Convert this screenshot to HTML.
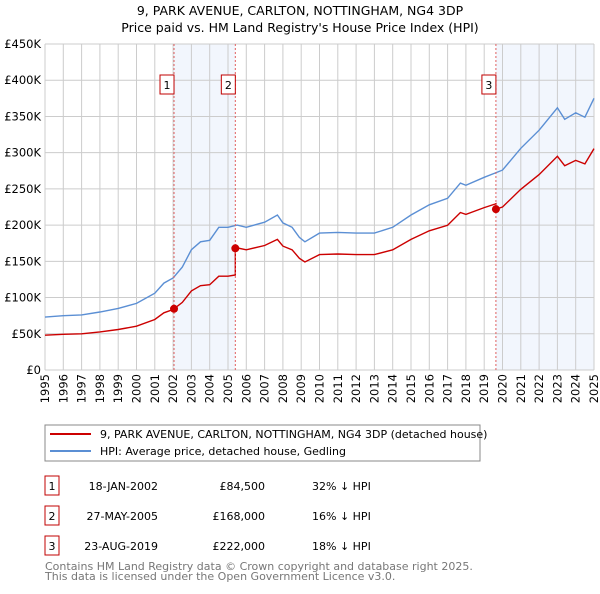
<!DOCTYPE html>
<html><head><meta charset="utf-8"><style>
body{margin:0;background:#fff;font-family:"DejaVu Sans","Liberation Sans",sans-serif;}
svg text{font-family:"DejaVu Sans","Liberation Sans",sans-serif;}
</style></head><body>
<svg id="chart" width="600" height="590" xmlns="http://www.w3.org/2000/svg">
<text x="300" y="15" font-size="12.5" text-anchor="middle" fill="#000">9, PARK AVENUE, CARLTON, NOTTINGHAM, NG4 3DP</text>
<text x="300" y="32" font-size="12.5" text-anchor="middle" fill="#000">Price paid vs. HM Land Registry's House Price Index (HPI)</text>
<g id="shade"></g><g id="grid"></g><g id="lines"></g><g id="marks"></g><g id="axes"></g>
<rect x="45" y="425" width="435" height="36" fill="#fff" stroke="#888" stroke-width="1"/>
<line x1="50" y1="434" x2="91" y2="434" stroke="#cc0000" stroke-width="2"/>
<text x="100" y="438" font-size="11">9, PARK AVENUE, CARLTON, NOTTINGHAM, NG4 3DP (detached house)</text>
<line x1="50" y1="451" x2="91" y2="451" stroke="#5b8fd4" stroke-width="2"/>
<text x="100" y="455" font-size="11">HPI: Average price, detached house, Gedling</text>
<g id="table" font-size="11"></g>
<text x="45" y="570" font-size="11" fill="#777">Contains HM Land Registry data © Crown copyright and database right 2025.</text>
<text x="45" y="580" font-size="11" fill="#777">This data is licensed under the Open Government Licence v3.0.</text>
</svg>
<script>
const hpiYears=[1995,1996,1997,1998,1999,2000,2001,2001.5,2002,2002.5,2003,2003.5,2004,2004.5,2005,2005.5,2006,2007,2007.7,2008,2008.5,2008.9,2009.2,2010,2011,2012,2013,2014,2015,2016,2017,2017.7,2018,2019,2019.6,2020,2021,2022,2023,2023.4,2024,2024.5,2025];
const hpiValues=[73,75,76,80,85,92,106,120,127,142,166,177,179,197,197,200,197,204,214,203,197,183,177,189,190,189,189,197,214,228,237,258,255,266,272,276,306,331,362,346,355,349,375];
const saleYears=[2002.05,2005.4,2019.64];
const salePrices=[84.5,168,222];
const saleLabels=["1","2","3"];
const saleDates=["18-JAN-2002","27-MAY-2005","23-AUG-2019"];
const salePriceText=["£84,500","£168,000","£222,000"];
const saleDiffText=["32% ↓ HPI","16% ↓ HPI","18% ↓ HPI"];
const yTicks=[0,50,100,150,200,250,300,350,400,450];
const yTickLabels=["£0","£50K","£100K","£150K","£200K","£250K","£300K","£350K","£400K","£450K"];
const xTicks=[1995,1996,1997,1998,1999,2000,2001,2002,2003,2004,2005,2006,2007,2008,2009,2010,2011,2012,2013,2014,2015,2016,2017,2018,2019,2020,2021,2022,2023,2024,2025];

const NS="http://www.w3.org/2000/svg";
const X0=45,X1=594,Y0=370,Y1=44;
const xs=y=>X0+(y-1995)/30*(X1-X0);
const ys=v=>Y0-v/450*(Y0-Y1);
function mk(p,tag,a){const e=document.createElementNS(NS,tag);for(const k in a)e.setAttribute(k,a[k]);document.getElementById(p).appendChild(e);return e;}
function hpiAt(t){for(let i=0;i<hpiYears.length-1;i++){if(t<=hpiYears[i+1]){const f=(t-hpiYears[i])/(hpiYears[i+1]-hpiYears[i]);return hpiValues[i]+f*(hpiValues[i+1]-hpiValues[i]);}}return hpiValues[hpiValues.length-1];}

let r=mk('shade','rect',{x:xs(saleYears[0]),y:Y1,width:xs(saleYears[1])-xs(saleYears[0]),height:Y0-Y1,fill:'#f2f6fd'});


r=mk('shade','rect',{x:xs(saleYears[2]),y:Y1,width:X1-xs(saleYears[2]),height:Y0-Y1,fill:'#f2f6fd'});


yTicks.forEach((v,i)=>{
 let l=mk('grid','line',{x1:X0,x2:X1,y1:ys(v),y2:ys(v),stroke:'#ccc','stroke-width':1});
 
 
 let t=mk('axes','text',{x:X0-4,y:ys(v)+4,'font-size':11.5,'text-anchor':'end'});
 t.textContent=yTickLabels[i];
 
 
});
xTicks.forEach(yr=>{
 let l=mk('grid','line',{x1:xs(yr),x2:xs(yr),y1:Y1,y2:Y0,stroke:'#ccc','stroke-width':1});
 
 
 let t=mk('axes','text',{x:0,y:0,'font-size':11.5,'text-anchor':'end',transform:`translate(${xs(yr)+4},374) rotate(-90)`});
 t.textContent=yr;
 
 
});
let d='';hpiYears.forEach((y,i)=>{d+=(i?'L':'M')+xs(y).toFixed(1)+','+ys(hpiValues[i]).toFixed(1);});
let p=mk('lines','path',{d:d,fill:'none',stroke:'#5b8fd4','stroke-width':1.4});


const ratios=saleYears.map((s,i)=>salePrices[i]/hpiAt(s));
let pts=[];
const times=[...new Set([...hpiYears,...saleYears])].sort((a,b)=>a-b);
times.forEach(t=>{
 let k=0;for(let i=0;i<saleYears.length;i++)if(t>=saleYears[i])k=i;
 if(saleYears.includes(t)&&saleYears.indexOf(t)>0){const j=saleYears.indexOf(t);pts.push([t,hpiAt(t)*ratios[j-1]]);}
 pts.push([t,hpiAt(t)*ratios[k]]);
});
d='';pts.forEach((q,i)=>{d+=(i?'L':'M')+xs(q[0]).toFixed(1)+','+ys(q[1]).toFixed(1);});
p=mk('lines','path',{d:d,fill:'none',stroke:'#cc0000','stroke-width':1.4});


saleYears.forEach((s,i)=>{
 let l=mk('marks','line',{x1:xs(s),x2:xs(s),y1:Y1,y2:Y0,stroke:'#e06060','stroke-width':1,'stroke-dasharray':'2,2'});
 
 
 let c=mk('marks','circle',{cx:xs(s),cy:ys(salePrices[i]),r:4,fill:'#cc0000'});
 
 
 let b=mk('marks','rect',{x:xs(s)-14,y:75,width:14,height:19,fill:'#fff',stroke:'#c00000','stroke-width':1});
 
 
 let t=mk('marks','text',{x:xs(s)-7,y:89,'font-size':11,'text-anchor':'middle'});
 t.textContent=saleLabels[i];
 
 
 const cy=486+i*30;
 b=mk('table','rect',{x:45,y:cy-10,width:14,height:19,fill:'#fff',stroke:'#c00000','stroke-width':1});
 
 
 t=mk('table','text',{x:52,y:cy+4,'text-anchor':'middle'});t.textContent=saleLabels[i];
 
 
 t=mk('table','text',{x:158,y:cy+4,'text-anchor':'end'});t.textContent=saleDates[i];
 
 
 t=mk('table','text',{x:265,y:cy+4,'text-anchor':'end'});t.textContent=salePriceText[i];
 
 
 t=mk('table','text',{x:312,y:cy+4});t.textContent=saleDiffText[i];
 
 
});
</script>
</body></html>
